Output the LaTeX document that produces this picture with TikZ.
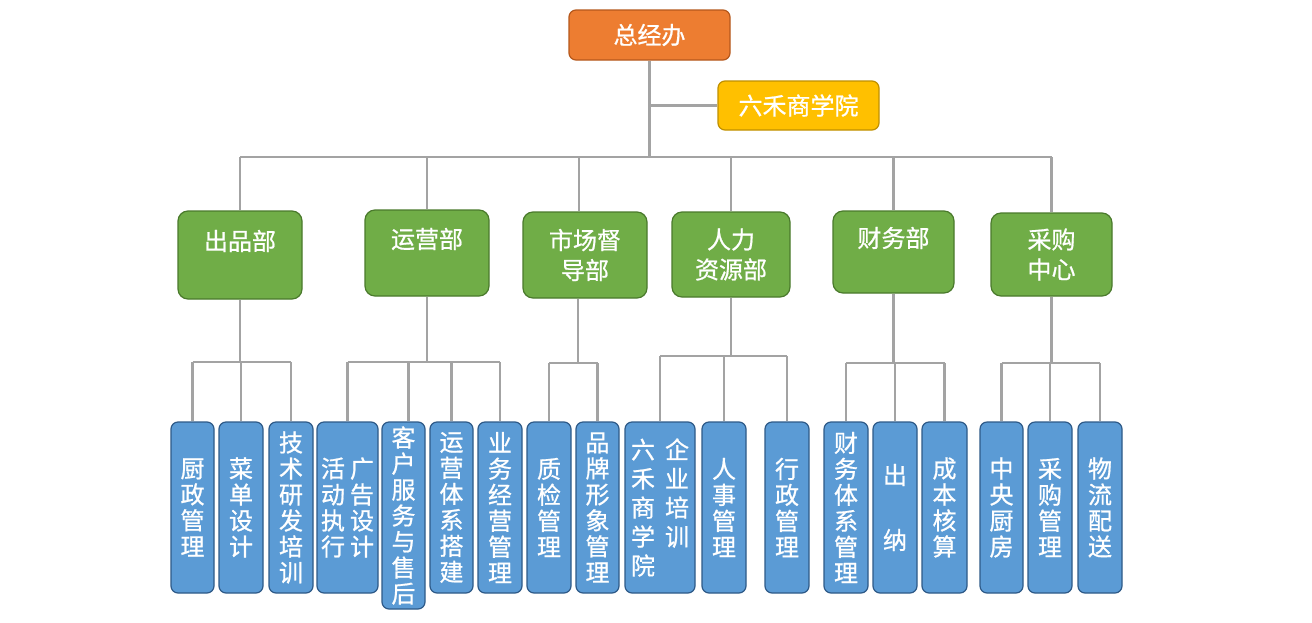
\documentclass[tikz,border=0pt]{standalone}
\usepackage{fontspec}
\newfontfamily\cjk[FakeBold=0.8]{Noto Sans CJK SC}
\usetikzlibrary{calc}
\definecolor{topfill}{HTML}{ED7D31}
\definecolor{topline}{HTML}{B5581C}
\definecolor{acfill}{HTML}{FFC000}
\definecolor{acline}{HTML}{BF9000}
\definecolor{dfill}{HTML}{70AD47}
\definecolor{dline}{HTML}{4A7A2C}
\definecolor{lfill}{HTML}{5B9BD5}
\definecolor{lline}{HTML}{2E5A88}
\definecolor{conn}{HTML}{A3A3A3}
\tikzset{
  box/.style={rounded corners=7pt, line width=1.2pt, text=white, align=center, inner sep=0pt},
  topbox/.style={box, fill=topfill, draw=topline, font={\cjk\fontsize{24}{30}\selectfont}},
  acbox/.style={box, fill=acfill, draw=acline, font={\cjk\fontsize{24}{30}\selectfont}},
  dept/.style={box, rounded corners=10pt, fill=dfill, draw=dline, font={\cjk\fontsize{24}{30}\selectfont}},
  leaf/.style={box, fill=lfill, draw=lline, font={\cjk\fontsize{24}{26}\selectfont}},
  wire/.style={draw=conn, line width=2.6pt}
}
\begin{document}
\begin{tikzpicture}[x=1pt, y=-1pt]
\useasboundingbox[fill=white] (0,0) rectangle (1312,622);
% top level
\node[topbox, minimum width=161pt, minimum height=50pt] (top) at (649.5,35) {总经办};
\node[acbox, minimum width=161pt, minimum height=49pt] (ac) at (798.5,105.5) {六禾商学院};
% departments
\node[dept, minimum width=124pt, minimum height=88pt] (d1) at (240,255) {出品部\\\mbox{}};
\node[dept, minimum width=124pt, minimum height=86pt] (d2) at (427,253) {运营部\\\mbox{}};
\node[dept, minimum width=124pt, minimum height=86pt] (d3) at (585,255) {市场督\\导部};
\node[dept, minimum width=118pt, minimum height=85pt] (d4) at (731,254.5) {人力\\资源部};
\node[dept, minimum width=121pt, minimum height=82pt] (d5) at (893.5,252) {财务部\\\mbox{}};
\node[dept, minimum width=121pt, minimum height=83pt] (d6) at (1051.5,254.5) {采购\\中心};
% leaves
\node[leaf, minimum width=43pt, minimum height=171pt] (l1) at (192.5,507.5) {厨\\政\\管\\理};
\node[leaf, minimum width=44pt, minimum height=171pt] (l2) at (241,507.5) {菜\\单\\设\\计};
\node[leaf, minimum width=44pt, minimum height=171pt] (l3) at (291,507.5) {技\\术\\研\\发\\培\\训};
\node[leaf, minimum width=61pt, minimum height=171pt] (l4) at (347.5,507.5)
  {\parbox[t]{24pt}{\centering 活\\动\\执\\行}\hspace{5pt}\parbox[t]{24pt}{\centering 广\\告\\设\\计}};
\node[leaf, minimum width=43pt, minimum height=187pt] (l5) at (403.5,515.5) {客\\户\\服\\务\\与\\售\\后};
\node[leaf, minimum width=43pt, minimum height=171pt] (l6) at (451.5,507.5) {运\\营\\体\\系\\搭\\建};
\node[leaf, minimum width=44pt, minimum height=171pt] (l7) at (500,507.5) {业\\务\\经\\营\\管\\理};
\node[leaf, minimum width=44pt, minimum height=171pt] (l8) at (549,507.5) {质\\检\\管\\理};
\node[leaf, minimum width=43pt, minimum height=171pt] (l9) at (597.5,507.5) {品\\牌\\形\\象\\管\\理};
\node[leaf, minimum width=70pt, minimum height=171pt, font={\cjk\fontsize{24}{29}\selectfont}] (l10) at (660,507.5)
  {\parbox[t]{24pt}{\centering 六\\禾\\商\\学\\院}\hspace{10pt}\parbox[t]{24pt}{\centering 企\\业\\培\\训}};
\node[leaf, minimum width=44pt, minimum height=171pt] (l11) at (724,507.5) {人\\事\\管\\理};
\node[leaf, minimum width=44pt, minimum height=171pt] (l12) at (787,507.5) {行\\政\\管\\理};
\node[leaf, minimum width=44pt, minimum height=171pt] (l13) at (846,507.5) {财\\务\\体\\系\\管\\理};
\node[leaf, minimum width=44pt, minimum height=171pt] (l14) at (895,507.5) {出\\[39pt]纳};
\node[leaf, minimum width=45pt, minimum height=171pt] (l15) at (944.5,507.5) {成\\本\\核\\算};
\node[leaf, minimum width=43pt, minimum height=171pt] (l16) at (1001.5,507.5) {中\\央\\厨\\房};
\node[leaf, minimum width=44pt, minimum height=171pt] (l17) at (1050,507.5) {采\\购\\管\\理};
\node[leaf, minimum width=44pt, minimum height=171pt] (l18) at (1100,507.5) {物\\流\\配\\送};
% bus levels
\coordinate (bus) at (0,157);
\coordinate (sb1) at (0,362);
\coordinate (sb2) at (0,362);
\coordinate (sb3) at (0,363);
\coordinate (sb4) at (0,356);
\coordinate (sb5) at (0,363);
\coordinate (sb6) at (0,363);
\coordinate (d3top) at ($(d3.north)+(-6,0)$);
\coordinate (d3bot) at ($(d3.south)+(-7,0)$);
\coordinate (l5top) at ($(l5.north)+(5,0)$);
% top connectors
\draw[wire] (top.south) -- (top.south |- bus);
\draw[wire] (top.south |- ac.west) -- (ac.west);
\draw[wire] (d1.north |- bus) -- (d6.north |- bus);
\draw[wire] (d1.north |- bus) -- (d1.north);
\draw[wire] (d2.north |- bus) -- (d2.north);
\draw[wire] (d3top |- bus) -- (d3top);
\draw[wire] (d4.north |- bus) -- (d4.north);
\draw[wire] (d5.north |- bus) -- (d5.north);
\draw[wire] (d6.north |- bus) -- (d6.north);
% 出品部
\draw[wire] (d1.south) -- (d1.south |- sb1);
\draw[wire] (l1.north |- sb1) -- (l3.north |- sb1);
\foreach \n in {l1,l2,l3} \draw[wire] (\n.north |- sb1) -- (\n.north);
% 运营部
\draw[wire] (d2.south) -- (d2.south |- sb2);
\draw[wire] (l4.north |- sb2) -- (l7.north |- sb2);
\foreach \n in {l4,l6,l7} \draw[wire] (\n.north |- sb2) -- (\n.north);
\draw[wire] (l5top |- sb2) -- (l5top);
% 市场督导部
\draw[wire] (d3bot) -- (d3bot |- sb3);
\draw[wire] (l8.north |- sb3) -- (l9.north |- sb3);
\foreach \n in {l8,l9} \draw[wire] (\n.north |- sb3) -- (\n.north);
% 人力资源部
\draw[wire] (d4.south) -- (d4.south |- sb4);
\draw[wire] (l10.north |- sb4) -- (l12.north |- sb4);
\foreach \n in {l10,l11,l12} \draw[wire] (\n.north |- sb4) -- (\n.north);
% 财务部
\draw[wire] (d5.south) -- (d5.south |- sb5);
\draw[wire] (l13.north |- sb5) -- (l15.north |- sb5);
\foreach \n in {l13,l14,l15} \draw[wire] (\n.north |- sb5) -- (\n.north);
% 采购中心
\draw[wire] (d6.south) -- (d6.south |- sb6);
\draw[wire] (l16.north |- sb6) -- (l18.north |- sb6);
\foreach \n in {l16,l17,l18} \draw[wire] (\n.north |- sb6) -- (\n.north);
\end{tikzpicture}
\end{document}
